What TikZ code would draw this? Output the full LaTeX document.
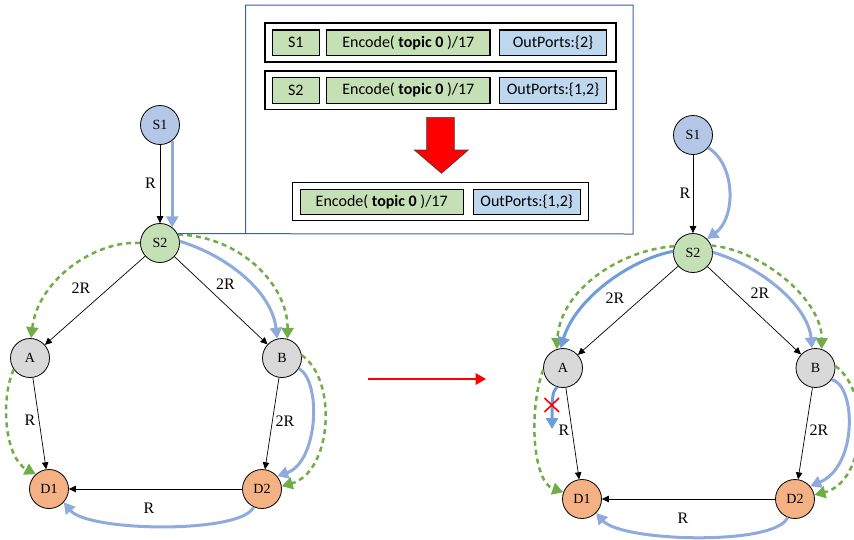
\documentclass[tikz,border=0pt]{standalone}
\usepackage{fontspec}
\setmainfont{Liberation Serif}
\newfontfamily\boxfont{Carlito}
\usetikzlibrary{arrows.meta}

\definecolor{nodeblue}{HTML}{B4C7E7}
\definecolor{nodegreen}{HTML}{C5E0B4}
\definecolor{nodegray}{HTML}{D9D9D9}
\definecolor{nodeorange}{HTML}{F4B183}
\definecolor{cellgreen}{HTML}{C5E0B4}
\definecolor{cellblue}{HTML}{BDD7EE}
\definecolor{flowblue}{HTML}{8FAADC}
\definecolor{flowbluedark}{HTML}{6F9DD8}
\definecolor{dashgreen}{HTML}{70AD47}
\definecolor{framecol}{HTML}{3A5FA8}

\tikzset{
  router/.style={circle, draw=black, line width=0.8pt, minimum size=39pt, inner sep=0pt,
    font=\fontsize{14}{14}\selectfont},
  lbl/.style={inner sep=0pt, font=\fontsize{16}{16}\selectfont},
  link/.style={draw=black, line width=0.7pt, -{Triangle[length=7pt,width=6.5pt]}},
  bluepath/.style={draw=flowblue, line width=3pt, -{Triangle[length=11pt,width=12pt]}},
  greenpath/.style={draw=dashgreen, line width=2.5pt, dash pattern=on 5pt off 4pt,
    -{Triangle[length=11pt,width=12pt]}},
  rowbox/.style={draw=black, line width=1.5pt, inner sep=0pt},
  cell/.style={draw=black, line width=1.1pt, inner sep=0pt, minimum height=25.7pt,
    font=\boxfont\fontsize{16}{16}\selectfont},
  gcell/.style={cell, fill=cellgreen},
  bcell/.style={cell, fill=cellblue},
  frame/.style={draw=framecol, line width=1pt},
}

\begin{document}
\begin{tikzpicture}[x=1pt, y=-1pt]
\useasboundingbox (0,0) rectangle (854,539);

% ---------- left network ----------
\node[router, fill=nodeblue]   (S1)  at (160,125) {S1};
\node[router, fill=nodegreen]  (S2)  at (160,243) {S2};
\node[router, fill=nodegray]   (A)   at (30,358)  {A};
\node[router, fill=nodegray]   (B)   at (282,358) {B};
\node[router, fill=nodeorange] (D1)  at (49,489)  {D1};
\node[router, fill=nodeorange] (D2)  at (262,489) {D2};

\draw[link] (S1) -- (S2);
\draw[link] (S2) -- (A);
\draw[link] (S2) -- (B);
\draw[link] (A) -- (D1);
\draw[link] (B) -- (D2);
\draw[link] (D2) -- (D1);

\node[lbl] (lR1)  at (150.5,183) {R};
\node[lbl] (lR2)  at (81,288)    {2R};
\node[lbl] (lR3)  at (225.5,284) {2R};
\node[lbl] (lR4)  at (30,420)    {R};
\node[lbl] (lR5)  at (285,421)   {2R};
\node[lbl] (lR6)  at (149,508)   {R};

\draw[bluepath] (S1.-52) -- (S2.52);
\draw[greenpath] (S2.west) .. controls (95,240) and (38,280) .. (A.87);
\draw[greenpath] (S2.25) .. controls (240,236) and (288,285) .. (B.74);
\draw[bluepath] (S2.5) .. controls (228,256) and (272,292) .. (B.104);
\draw[greenpath] (A.215) .. controls (0,400) and (5,458) .. (D1.132);
\draw[bluepath] (B.-32) .. controls (322,382) and (318,462) .. (D2.40);
\draw[greenpath] (B.8) .. controls (338,380) and (332,472) .. (D2.8);
\draw[bluepath] (D2.-115) .. controls (242,534) and (88,532) .. (D1.-42);

% ---------- table panel ----------
\draw[frame] (S2.28) -- (633,234) -- (633,5) -- (245.7,5) -- (245.7,234);

\node[rowbox, minimum width=351pt, minimum height=39pt] (row1) at (440.5,42.5) {};
\node[gcell, minimum width=47pt]    (r1a) at (295.8,42.8) {S1};
\node[gcell, minimum width=163.3pt] (r1b) at (408.3,42.8) {Encode( \textbf{topic 0} )/17};
\node[bcell, minimum width=107.4pt] (r1c) at (553,42.8)   {OutPorts:\{2\}};

\node[rowbox, minimum width=351pt, minimum height=38.3pt] (row2) at (440.5,90.2) {};
\node[gcell, minimum width=47pt]    (r2a) at (295.8,90.3) {S2};
\node[gcell, minimum width=163.3pt] (r2b) at (408.3,90.3) {Encode( \textbf{topic 0} )/17};
\node[bcell, minimum width=107.4pt] (r2c) at (553,90.3)   {OutPorts:\{1,2\}};

% merge arrow
\fill[red, draw=black!75, line width=0.6pt]
  (426.7,117.3) -- (454.3,117.3) -- (454.3,150) -- (468.3,150) -- (441.5,173.3)
  -- (414.3,150) -- (426.7,150) -- cycle;

\node[rowbox, minimum width=295.6pt, minimum height=38.4pt] (row3) at (440.5,201.5) {};
\node[gcell, minimum width=163.3pt] (r3a) at (381.7,202) {Encode( \textbf{topic 0} )/17};
\node[bcell, minimum width=106.7pt] (r3b) at (526.7,202) {OutPorts:\{1,2\}};

% ---------- transition arrow ----------
\coordinate (tL) at (368,379);
\coordinate (tR) at (486,379);
\draw[red, line width=2pt, -{Triangle[length=10.5pt,width=11.5pt]}] (tL) -- (tR);

% ---------- right network ----------
\node[router, fill=nodeblue]   (S1r) at (693,135) {S1};
\node[router, fill=nodegreen]  (S2r) at (693,253) {S2};
\node[router, fill=nodegray]   (Ar)  at (563,368) {A};
\node[router, fill=nodegray]   (Br)  at (815.5,368) {B};
\node[router, fill=nodeorange] (D1r) at (582,499) {D1};
\node[router, fill=nodeorange] (D2r) at (795,499) {D2};

\draw[link] (S1r) -- (S2r);
\draw[link] (S2r) -- (Ar);
\draw[link] (S2r) -- (Br);
\draw[link] (Ar) -- (D1r);
\draw[link] (Br) -- (D2r);
\draw[link] (D2r) -- (D1r);

\node[lbl] (rR1) at (685,193) {R};
\node[lbl] (rR2) at (615,298) {2R};
\node[lbl] (rR3) at (760,293) {2R};
\node[lbl] (rR4) at (564,430) {R};
\node[lbl] (rR5) at (819,430) {2R};
\node[lbl] (rR6) at (683,518) {R};

\draw[bluepath] (S1r.-40) .. controls (736,165) and (736,218) .. (S2r.45);
\draw[greenpath] (S2r.160) .. controls (620,250) and (560,290) .. (Ar.108);
\draw[bluepath, draw=flowbluedark] (S2r.175) .. controls (628,260) and (575,300) .. (Ar.97);
\draw[greenpath] (S2r.22) .. controls (762,250) and (822,300) .. (Br.72);
\draw[bluepath] (S2r.2) .. controls (760,266) and (808,305) .. (Br.100);
\draw[greenpath] (Ar.185) .. controls (528,412) and (533,482) .. (D1r.160);
\coordinate (cut) at (552,429);
\draw[bluepath, draw=flowbluedark] (Ar.-108) .. controls (552,392) and (552,400) .. (cut);
\draw[red, line width=1.6pt] (544.5,398) -- (559,412) (559,398) -- (544.5,412);
\draw[bluepath] (Br.-35) .. controls (856,386) and (858,466) .. (D2r.40);
\draw[greenpath] (Br.6) .. controls (872,392) and (866,482) .. (D2r.12);
\draw[bluepath] (D2r.-112) .. controls (776,546) and (622,542) .. (D1r.-45);
\end{tikzpicture}
\end{document}
